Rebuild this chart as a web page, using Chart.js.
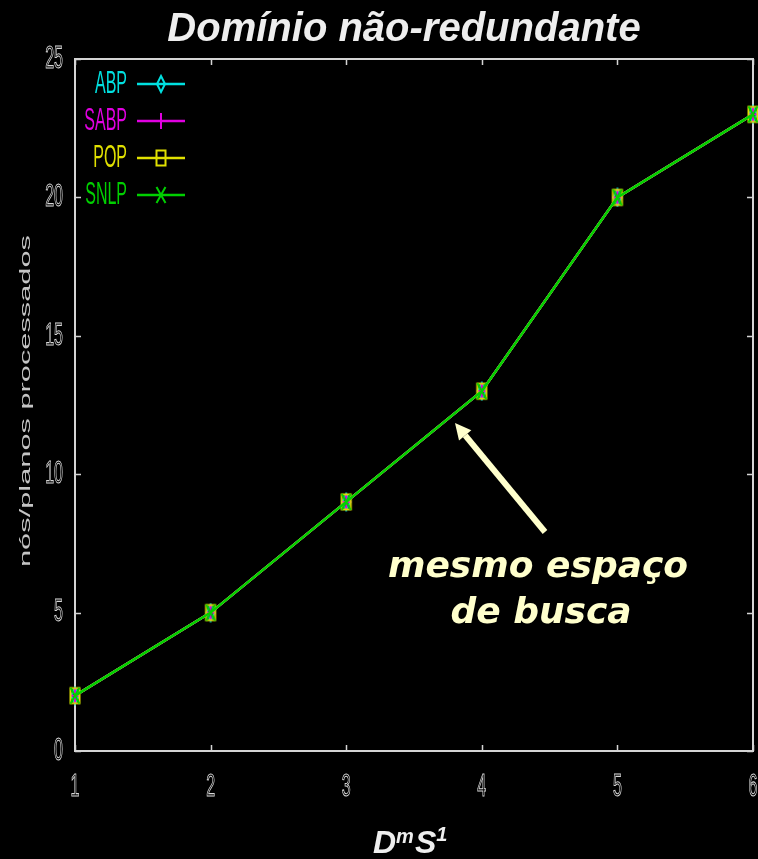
<!DOCTYPE html>
<html>
<head>
<meta charset="utf-8">
<script src="https://cdn.jsdelivr.net/npm/chart.js@4/dist/chart.umd.min.js"></script>
<style>
  html, body { margin: 0; padding: 0; background: #000; }
  #wrap { width: 758px; height: 859px; position: relative; }
</style>
</head>
<body>
<div id="wrap"><canvas id="c" width="758" height="859"></canvas></div>
<script>
// Problem size D^m S^1 (x) and nodes/plans processed (y)
const sizes = [1, 2, 3, 4, 5, 6];
const abp  = [2, 5, 9, 13, 20, 23];
const sabp = [2, 5, 9, 13, 20, 23];
const pop  = [2, 5, 9, 13, 20, 23];
const snlp = [2, 5, 9, 13, 20, 23];
const seriesNames = ['ABP', 'SABP', 'POP', 'SNLP'];
const xTicks = [1, 2, 3, 4, 5, 6];
const yTicks = [0, 5, 10, 15, 20, 25];

const COLORS = { ABP: '#00e0e0', SABP: '#e000e0', POP: '#e0e000', SNLP: '#00d000' };

// Narrow point symbols in the gnuplot style
function makeMarker(kind, color) {
  const c = document.createElement('canvas');
  c.width = 14; c.height = 20;
  const g = c.getContext('2d');
  g.strokeStyle = color; g.lineWidth = 2;
  const cx = 7, cy = 10;
  g.beginPath();
  if (kind === 'diamond') {
    g.moveTo(cx, cy - 8); g.lineTo(cx + 4, cy); g.lineTo(cx, cy + 8); g.lineTo(cx - 4, cy); g.closePath();
  } else if (kind === 'plus') {
    g.moveTo(cx, cy - 8); g.lineTo(cx, cy + 8); g.moveTo(cx - 5, cy); g.lineTo(cx + 5, cy);
  } else if (kind === 'square') {
    g.rect(cx - 4.5, cy - 7.5, 9, 15);
  } else {
    g.moveTo(cx - 4.5, cy - 8); g.lineTo(cx + 4.5, cy + 8); g.moveTo(cx + 4.5, cy - 8); g.lineTo(cx - 4.5, cy + 8);
  }
  g.stroke();
  return c;
}
const MARKERS = {
  ABP: makeMarker('diamond', COLORS.ABP),
  SABP: makeMarker('plus', COLORS.SABP),
  POP: makeMarker('square', COLORS.POP),
  SNLP: makeMarker('x', COLORS.SNLP)
};

function toPoints(vals) { return sizes.map((x, i) => ({ x: x, y: vals[i] })); }
const allValues = [abp, sabp, pop, snlp];

const datasets = seriesNames.map((name, i) => ({
  label: name,
  data: toPoints(allValues[i]),
  borderColor: COLORS[name],
  backgroundColor: COLORS[name],
  borderWidth: 2.5,
  pointStyle: MARKERS[name],
  pointRadius: 8,
  pointHoverRadius: 8,
  tension: 0,
  clip: false,
  order: seriesNames.length - 1 - i
}));

// Narrow, tall text like the plotter's stroke font
function narrowText(ctx, text, x, y, align, color, mode) {
  ctx.save();
  ctx.font = '32px "Liberation Sans", Arial, sans-serif';
  ctx.textBaseline = 'middle';
  ctx.textAlign = align;
  ctx.translate(x, y);
  ctx.scale(0.5, 1);
  if (mode === 'stroke') {
    ctx.strokeStyle = color; ctx.lineWidth = 1.1;
    ctx.strokeText(text, 0, 0);
  } else {
    ctx.fillStyle = color;
    ctx.fillText(text, 0, 0);
  }
  ctx.restore();
}

const framePlugin = {
  id: 'frame',
  beforeDatasetsDraw(chart) {
    const { ctx, chartArea: a, scales } = chart;
    ctx.save();
    ctx.strokeStyle = '#d4d4d4';
    ctx.lineWidth = 2;
    ctx.strokeRect(a.left, a.top, a.right - a.left, a.bottom - a.top);
    ctx.lineWidth = 1.5;
    ctx.beginPath();
    yTicks.forEach(v => {
      const py = Math.round(scales.y.getPixelForValue(v)) + 0.5;
      ctx.moveTo(a.left, py); ctx.lineTo(a.left + 6, py);
      ctx.moveTo(a.right, py); ctx.lineTo(a.right - 6, py);
    });
    xTicks.forEach(v => {
      const px = Math.round(scales.x.getPixelForValue(v)) + 0.5;
      ctx.moveTo(px, a.bottom); ctx.lineTo(px, a.bottom - 6);
      ctx.moveTo(px, a.top); ctx.lineTo(px, a.top + 6);
    });
    ctx.stroke();
    ctx.restore();
  },
  afterDraw(chart) {
    const { ctx, chartArea: a, scales } = chart;
    // tick labels
    yTicks.forEach(v => narrowText(ctx, String(v), 63, scales.y.getPixelForValue(v), 'right', '#d8d8d8', 'stroke'));
    xTicks.forEach(v => narrowText(ctx, String(v), scales.x.getPixelForValue(v), 787, 'center', '#d8d8d8', 'stroke'));

    // legend
    chart.data.datasets.forEach((ds, i) => {
      const y = 84 + i * 37;
      narrowText(ctx, ds.label, 127, y, 'right', ds.borderColor, 'fill');
      ctx.save();
      ctx.strokeStyle = ds.borderColor; ctx.lineWidth = 2.5;
      ctx.beginPath(); ctx.moveTo(137, y); ctx.lineTo(185, y); ctx.stroke();
      const m = ds.pointStyle;
      ctx.drawImage(m, 161 - m.width / 2, y - m.height / 2);
      ctx.restore();
    });

    // y axis title
    ctx.save();
    ctx.fillStyle = '#c4c4c4';
    ctx.font = '15px "Liberation Sans", Arial, sans-serif';
    ctx.textAlign = 'center';
    ctx.textBaseline = 'middle';
    ctx.translate(26, 401);
    ctx.rotate(-Math.PI / 2);
    const t = 'nós/planos processados';
    const w = ctx.measureText(t).width;
    ctx.scale(332 / w, 1);
    ctx.fillText(t, 0, 0);
    ctx.restore();

    // main title
    ctx.save();
    ctx.fillStyle = '#eeeeee';
    ctx.font = 'italic bold 40px "Liberation Sans", Arial, sans-serif';
    ctx.textAlign = 'center';
    ctx.textBaseline = 'alphabetic';
    ctx.fillText('Domínio não-redundante', 404, 41);
    ctx.restore();

    // x axis title D^m S^1
    ctx.save();
    ctx.fillStyle = '#eeeeee';
    ctx.textBaseline = 'alphabetic';
    ctx.textAlign = 'left';
    let x = 373;
    const big = 'italic bold 32px "Liberation Sans", Arial, sans-serif';
    const small = 'italic bold 20px "Liberation Sans", Arial, sans-serif';
    ctx.font = big; ctx.fillText('D', x, 853); x += ctx.measureText('D').width;
    ctx.font = small; ctx.fillText('m', x, 843); x += ctx.measureText('m').width + 1;
    ctx.font = big; ctx.fillText('S', x, 853); x += ctx.measureText('S').width;
    ctx.font = small; ctx.fillText('1', x, 841);
    ctx.restore();

    // annotation with arrow
    ctx.save();
    ctx.fillStyle = '#ffffcc';
    ctx.strokeStyle = '#ffffcc';
    ctx.font = 'italic bold 36px "DejaVu Sans", sans-serif';
    ctx.textAlign = 'center';
    ctx.textBaseline = 'alphabetic';
    ctx.fillText('mesmo espaço', 538, 577);
    ctx.fillText('de busca', 541, 623);
    const tx = 455, ty = 423, sx = 545, sy = 532;
    const ang = Math.atan2(ty - sy, tx - sx);
    const hl = 16, hw = 8;
    const bx = tx - hl * Math.cos(ang), by = ty - hl * Math.sin(ang);
    ctx.lineWidth = 6;
    ctx.beginPath(); ctx.moveTo(sx, sy); ctx.lineTo(bx, by); ctx.stroke();
    ctx.beginPath();
    ctx.moveTo(tx, ty);
    ctx.lineTo(bx + hw * Math.sin(ang), by - hw * Math.cos(ang));
    ctx.lineTo(bx - hw * Math.sin(ang), by + hw * Math.cos(ang));
    ctx.closePath(); ctx.fill();
    ctx.restore();
  }
};

new Chart(document.getElementById('c'), {
  type: 'line',
  data: { datasets: datasets },
  options: {
    responsive: false,
    animation: false,
    events: [],
    layout: { autoPadding: false, padding: { left: 75, right: 5, top: 59, bottom: 108 } },
    plugins: { legend: { display: false }, tooltip: { enabled: false } },
    scales: {
      x: {
        type: 'linear', min: 1, max: 6,
        ticks: { display: false, stepSize: 1 },
        grid: { display: false, drawTicks: false },
        border: { display: false }
      },
      y: {
        type: 'linear', min: 0, max: 25,
        ticks: { display: false, stepSize: 5 },
        grid: { display: false, drawTicks: false },
        border: { display: false }
      }
    }
  },
  plugins: [framePlugin]
});
</script>
</body>
</html>
